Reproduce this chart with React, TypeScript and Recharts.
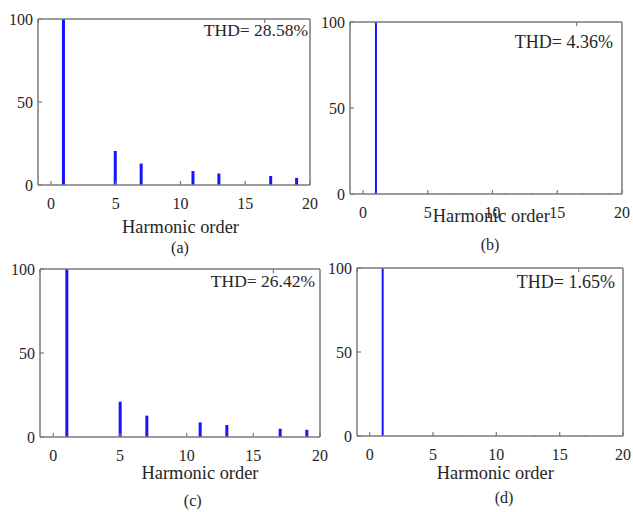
import React from 'react';
import { BarChart, Bar, XAxis, YAxis } from 'recharts';

// harmonic orders shown in every spectrum
const orders = [1, 5, 7, 11, 13, 17, 19];

// magnitudes in % of fundamental
const magA = [100, 20.5, 12.9, 8.4, 6.9, 5.4, 4.3];
const magB = [100, 0.4, 0.3, 0.3, 0.3, 0.3, 0.3];
const magC = [100, 21, 12.7, 8.7, 7.1, 4.9, 4.3];
const magD = [100, 0.3, 0.3, 0.3, 0.3, 0.3, 0.3];

const thdLabels = ['THD= 28.58%', 'THD= 4.36%', 'THD= 26.42%', 'THD= 1.65%'];
const panelLabels = ['(a)', '(b)', '(c)', '(d)'];

const xTicks = [0, 5, 10, 15, 20];
const yTicks = [0, 50, 100];

const FONT = '"Liberation Serif", "Times New Roman", serif';
const AXIS = '#7a7a7a';
const TEXT = '#262626';
const BLUE = '#1414ff';

const toRows = (mags: number[]) => orders.map((h, i) => ({ order: h, mag: mags[i] }));

const BottomTick = (props: any) => {
  const { x, y, payload } = props;
  return (
    <g>
      <line x1={x} y1={y - 18} x2={x} y2={y - 22} stroke={AXIS} strokeWidth={1.2} />
      <text x={x} y={y} dy="0.35em" textAnchor="middle" fontFamily={FONT} fontSize={16} fill={TEXT}>
        {payload.value}
      </text>
    </g>
  );
};

const LeftTick = (props: any) => {
  const { x, y, payload } = props;
  return (
    <g>
      <line x1={x + 5} y1={y} x2={x + 9} y2={y} stroke={AXIS} strokeWidth={1.2} />
      <text x={x} y={y} dy="0.35em" textAnchor="end" fontFamily={FONT} fontSize={16} fill={TEXT}>
        {payload.value}
      </text>
    </g>
  );
};

const TopTick = (props: any) => {
  const { x, y } = props;
  return <line x1={x} y1={y} x2={x} y2={y + 4} stroke={AXIS} strokeWidth={1.2} />;
};

const RightTick = (props: any) => {
  const { x, y } = props;
  return <line x1={x} y1={y} x2={x - 4} y2={y} stroke={AXIS} strokeWidth={1.2} />;
};

interface PanelProps {
  rows: { order: number; mag: number }[];
  plot: { l: number; r: number; t: number; b: number };
  barSize: number;
}

function Spectrum({ rows, plot, barSize }: PanelProps) {
  const padL = 40;
  const padT = 10;
  const padR = 10;
  const padB = 40;
  const w = Math.round(plot.r - plot.l + padL + padR);
  const h = Math.round(plot.b - plot.t + padT + padB);
  const axisLine = { stroke: AXIS, strokeWidth: 1.5 };
  return (
    <div style={{ position: 'absolute', left: Math.round(plot.l - padL), top: Math.round(plot.t - padT) }}>
      <BarChart width={w} height={h} data={rows} margin={{ top: padT - 1, right: padR - 1, bottom: 0, left: 0 }}>
        <XAxis
          dataKey="order"
          type="number"
          domain={[-1, 20]}
          ticks={xTicks}
          height={padB}
          tickSize={0}
          tickMargin={18}
          stroke={AXIS}
          axisLine={axisLine}
          tickLine={false}
          tick={<BottomTick />}
          interval={0}
        />
        <XAxis
          xAxisId="top"
          orientation="top"
          type="number"
          domain={[-1, 20]}
          ticks={xTicks}
          height={1}
          tickSize={0}
          tickMargin={0}
          stroke={AXIS}
          axisLine={axisLine}
          tickLine={false}
          tick={<TopTick />}
          interval={0}
        />
        <YAxis
          type="number"
          domain={[0, 100]}
          ticks={yTicks}
          width={padL}
          tickSize={0}
          tickMargin={5}
          stroke={AXIS}
          axisLine={axisLine}
          tickLine={false}
          tick={<LeftTick />}
          interval={0}
        />
        <YAxis
          yAxisId="right"
          orientation="right"
          type="number"
          domain={[0, 100]}
          ticks={yTicks}
          width={1}
          tickSize={0}
          tickMargin={0}
          stroke={AXIS}
          axisLine={axisLine}
          tickLine={false}
          tick={<RightTick />}
          interval={0}
        />
        <Bar dataKey="mag" fill={BLUE} barSize={barSize} isAnimationActive={false} />
      </BarChart>
    </div>
  );
}

const textStyle = { fontFamily: FONT, fill: TEXT };

export default function App() {
  return (
    <div style={{ position: 'absolute', left: 0, top: 0, width: 633, height: 512, background: '#fff', overflow: 'hidden' }}>
      <Spectrum rows={toRows(magA)} plot={{ l: 37.7, r: 310, t: 19, b: 184.7 }} barSize={3} />
      <Spectrum rows={toRows(magB)} plot={{ l: 350, r: 621.5, t: 21.7, b: 193.3 }} barSize={2} />
      <Spectrum rows={toRows(magC)} plot={{ l: 40, r: 320, t: 269, b: 437 }} barSize={3} />
      <Spectrum rows={toRows(magD)} plot={{ l: 356.7, r: 622.7, t: 268.3, b: 436.7 }} barSize={2} />
      <svg width={633} height={512} style={{ position: 'absolute', left: 0, top: 0, pointerEvents: 'none' }}>
        <text x={308} y={36} textAnchor="end" fontSize={17.5} style={textStyle}>{thdLabels[0]}</text>
        <text x={613} y={47.5} textAnchor="end" fontSize={18} style={textStyle}>{thdLabels[1]}</text>
        <text x={315} y={286.5} textAnchor="end" fontSize={17.5} style={textStyle}>{thdLabels[2]}</text>
        <text x={615} y={288} textAnchor="end" fontSize={18} style={textStyle}>{thdLabels[3]}</text>

        <text x={180.5} y={233} textAnchor="middle" fontSize={18.4} style={textStyle}>Harmonic order</text>
        <text x={491.3} y={221.5} textAnchor="middle" fontSize={18.4} style={textStyle}>Harmonic order</text>
        <text x={200} y={478.5} textAnchor="middle" fontSize={18.4} style={textStyle}>Harmonic order</text>
        <text x={495.3} y={479} textAnchor="middle" fontSize={18.4} style={textStyle}>Harmonic order</text>

        <text x={180} y={253} textAnchor="middle" fontSize={16} style={textStyle}>{panelLabels[0]}</text>
        <text x={490} y={250} textAnchor="middle" fontSize={16} style={textStyle}>{panelLabels[1]}</text>
        <text x={192.7} y={506} textAnchor="middle" fontSize={16} style={textStyle}>{panelLabels[2]}</text>
        <text x={504} y={503} textAnchor="middle" fontSize={16} style={textStyle}>{panelLabels[3]}</text>
      </svg>
    </div>
  );
}
